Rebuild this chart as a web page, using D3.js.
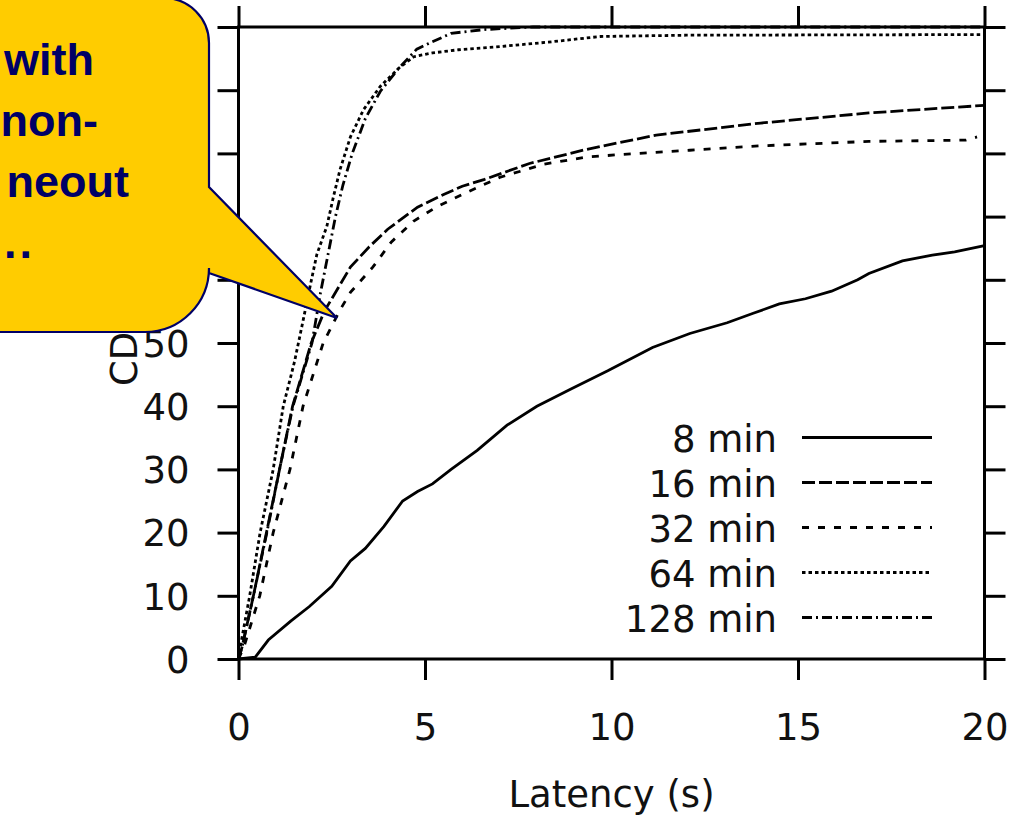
<!DOCTYPE html>
<html>
<head>
<meta charset="utf-8">
<script src="https://cdn.jsdelivr.net/npm/d3@7"></script>
<style>
  body { margin: 0; background: #fff; }
  svg { display: block; }
</style>
</head>
<body>
<svg id="chart" width="1018" height="816"></svg>
<script>
// DATA (latency in s, CDF in %)
const xTicks = [0, 5, 10, 15, 20];
const yTicks = [0, 10, 20, 30, 40, 50, 60, 70, 80, 90, 100];
const seriesNames = ["8 min", "16 min", "32 min", "64 min", "128 min"];
const seriesDash = ["none", "13,4", "7,9", "3.5,3", "10,4,2,4"];

const cdf8 = [[0,0],[0.45,0.3],[0.8,3],[1.4,6],[1.9,8.3],[2.5,11.5],[3.0,15.5],[3.4,17.5],[3.9,21],
  [4.4,25],[4.8,26.5],[5.2,27.7],[5.7,30],[6.4,33],[7.2,37],[8.0,40],[8.9,42.7],[9.9,45.6],
  [11.1,49.3],[12.1,51.5],[13.1,53.2],[13.8,54.7],[14.5,56.2],[15.2,57],[15.9,58.2],[16.6,60],
  [16.9,61],[17.8,63],[18.6,63.9],[19.2,64.4],[20,65.4]];
const cdf16 = [[0,0],[0.1,2],[0.4,10],[0.75,20],[1.1,30],[1.45,40],[1.95,50],[2.3,55],[2.7,59],
  [3.0,62],[3.5,65.2],[4.0,68],[4.8,71.5],[5.5,73.5],[6.0,74.8],[6.6,75.9],[7.8,78.4],[9.3,80.6],
  [11.2,82.9],[14.0,84.8],[16.9,86.4],[20,87.6]];
const cdf32 = [[0,0],[0.15,2],[0.57,10],[0.93,20],[1.38,30],[1.73,40],[2.27,50],[2.7,55],[3.0,58],
  [3.6,62],[4.1,66],[4.7,69.3],[5.3,71.5],[6.0,73.5],[7.0,76.2],[8.2,78.3],[9.3,79.4],[10.2,79.8],
  [12.1,80.5],[14.0,81.2],[16.9,81.9],[19.5,82.1],[19.8,82.6]];
const cdf64 = [[0,0],[0.05,2],[0.3,10],[0.58,20],[0.93,30],[1.2,40],[1.5,47],[1.73,53.5],[1.92,59],
  [2.1,64],[2.37,68.5],[2.54,73],[2.72,77.4],[3.0,82.6],[3.35,86.9],[3.8,90.6],[4.3,93.5],[4.7,95.3],
  [5.2,95.9],[5.9,96.4],[7.0,96.9],[8.3,97.6],[9.7,98.5],[12,98.7],[20,98.8]];
const cdf128 = [[0,0],[0.1,2],[0.4,10],[0.76,20],[1.1,30],[1.46,40],[1.97,50],[2.2,58],[2.4,64],
  [2.6,70],[2.8,75],[3.05,80],[3.4,85.5],[3.8,89.8],[4.3,93.5],[4.78,96.5],[5.1,97.4],[5.7,99],
  [6.6,99.6],[7.9,100],[20,100]];
const seriesData = [cdf8, cdf16, cdf32, cdf64, cdf128];

const calloutLines = ["with", "non-", "neout", ".."];

// CHART
const svg = d3.select("#chart");
svg.append("rect").attr("width", 1018).attr("height", 816).attr("fill", "#fff");

const x = d3.scaleLinear().domain([0, 20]).range([238.5, 984.5]);
const y = d3.scaleLinear().domain([0, 100]).range([659, 27]);

const font = "'DejaVu Sans', sans-serif";
const tickLen = 21;

function styleAxis(g) {
  g.select(".domain").remove();
  g.selectAll(".tick line").attr("stroke", "#000").attr("stroke-width", 3);
  g.selectAll(".tick text").attr("fill", "#111").style("font-family", font).style("font-size", "37px");
}

svg.append("g")
  .attr("transform", `translate(0,${y(0)})`)
  .call(d3.axisBottom(x).tickValues(xTicks).tickSize(tickLen).tickPadding(34).tickFormat(d3.format("d")))
  .call(styleAxis);
svg.append("g")
  .attr("transform", `translate(0,${y(100)})`)
  .call(d3.axisTop(x).tickValues(xTicks).tickSize(tickLen).tickFormat(""))
  .call(styleAxis);
svg.append("g")
  .attr("transform", `translate(${x(0)},0)`)
  .call(d3.axisLeft(y).tickValues(yTicks).tickSize(tickLen).tickPadding(28).tickFormat(d3.format("d")))
  .call(styleAxis)
  .selectAll(".tick text").attr("dy", "0.36em");
svg.append("g")
  .attr("transform", `translate(${x(20)},0)`)
  .call(d3.axisRight(y).tickValues(yTicks).tickSize(tickLen).tickFormat(""))
  .call(styleAxis);

// border
svg.append("rect")
  .attr("x", x(0)).attr("y", y(100))
  .attr("width", x(20) - x(0)).attr("height", y(0) - y(100))
  .attr("fill", "none").attr("stroke", "#000").attr("stroke-width", 3);

// axis titles
svg.append("text")
  .attr("x", (x(0) + x(20)) / 2).attr("y", 807)
  .attr("text-anchor", "middle")
  .style("font-family", font).style("font-size", "37px").attr("fill", "#111")
  .text("Latency (s)");
svg.append("text")
  .attr("transform", "translate(137,386) rotate(-90)")
  .attr("text-anchor", "start")
  .style("font-family", font).style("font-size", "37px").attr("fill", "#111")
  .text("CDF (%)");

// curves
const line = d3.line().x(d => x(d[0])).y(d => y(d[1]));
svg.append("g").selectAll("path")
  .data(seriesData)
  .join("path")
  .attr("d", line)
  .attr("fill", "none")
  .attr("stroke", "#000")
  .attr("stroke-width", 2.8)
  .attr("stroke-dasharray", (d, i) => seriesDash[i]);

// legend
const legend = svg.append("g").selectAll("g")
  .data(seriesNames)
  .join("g")
  .attr("transform", (d, i) => `translate(0,${452 + i * 45})`);
legend.append("text")
  .attr("x", 777).attr("y", 0)
  .attr("text-anchor", "end")
  .style("font-family", font).style("font-size", "37px").attr("fill", "#111")
  .text(d => d);
legend.append("line")
  .attr("x1", 802).attr("x2", 932)
  .attr("y1", -14.5).attr("y2", -14.5)
  .attr("stroke", "#000").attr("stroke-width", 2.8)
  .attr("stroke-dasharray", (d, i) => seriesDash[i]);

// callout bubble
svg.append("path")
  .attr("d", "M-20,-2 H164 A45,45 0 0 1 209,43 V187 L337,318 L209,273 V268 A64,64 0 0 1 145,332 H-20 Z")
  .attr("fill", "#ffcc00")
  .attr("stroke", "#000066")
  .attr("stroke-width", 2.2)
  .attr("stroke-linejoin", "miter");

const calloutEnds = [94, 98, 129, 35];
svg.append("g").selectAll("text")
  .data(calloutLines)
  .join("text")
  .attr("x", (d, i) => calloutEnds[i])
  .attr("y", (d, i) => 75 + i * 61)
  .attr("text-anchor", "end")
  .attr("letter-spacing", (d, i) => i === 3 ? "3px" : null)
  .style("font-family", "'Liberation Sans', Arial, sans-serif")
  .style("font-weight", "bold")
  .style("font-size", "45px")
  .attr("fill", "#000066")
  .text(d => d);
</script>
</body>
</html>
